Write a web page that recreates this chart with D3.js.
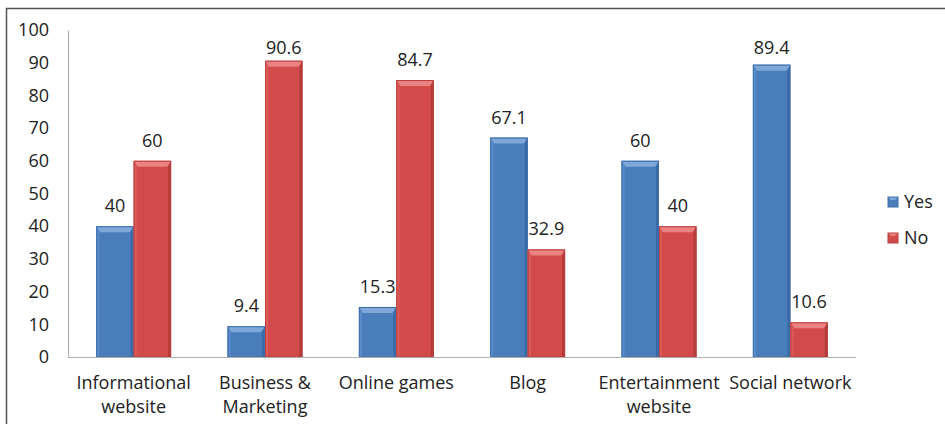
<!DOCTYPE html>
<html>
<head>
<meta charset="utf-8">
<script src="https://cdn.jsdelivr.net/npm/d3@7"></script>
<style>
  html, body { margin: 0; padding: 0; background: #fff; }
  svg { display: block; }
  text { font-family: "Open Sans", Lato, sans-serif; fill: #222; }
</style>
</head>
<body>
<svg id="chart" width="945" height="424"></svg>
<script>
// Website categories and the share of respondents answering Yes / No
const categories = [
  ["Informational", "website"],
  ["Business &", "Marketing"],
  ["Online games"],
  ["Blog"],
  ["Entertainment", "website"],
  ["Social network"]
];
const yesValues = [40, 9.4, 15.3, 67.1, 60, 89.4];
const noValues  = [60, 90.6, 84.7, 32.9, 40, 10.6];
const seriesNames = ["Yes", "No"];
const yTicks = [0, 10, 20, 30, 40, 50, 60, 70, 80, 90, 100];

const svg = d3.select("#chart");
const FS = "18px";

// outer frame
svg.append("rect")
  .attr("x", 6.5).attr("y", 8.5)
  .attr("width", 945).attr("height", 430)
  .attr("fill", "none").attr("stroke", "#555").attr("stroke-width", 1.5);

const plot = { left: 68, right: 856, top: 30, bottom: 357 };

const x = d3.scaleBand()
  .domain(d3.range(categories.length))
  .range([plot.left, plot.right])
  .padding(0);

const y = d3.scaleLinear().domain([0, 100]).range([plot.bottom, plot.top]);

const barW = x.bandwidth() * 0.285;

const palettes = {
  Yes: { base: "#4a7ebb", top: "#7fa8d8", left: "#5a8ccb", right: "#3a6aa5", edge: "#3d6ea8" },
  No:  { base: "#d24b4a", top: "#e98280", left: "#dc5c5a", right: "#b53b3a", edge: "#b84140" }
};

// y-axis labels
const yAxis = d3.axisLeft(y).tickValues(yTicks).tickSize(0).tickPadding(19);
const gy = svg.append("g").attr("transform", `translate(${plot.left},0)`).call(yAxis);
gy.select(".domain").attr("stroke", "#b0b0b0").attr("stroke-width", 1.2);
gy.selectAll("text").style("font-size", FS).style("font-family", "'Open Sans', sans-serif").attr("fill", "#222");

// bars with bevelled faces
function drawBar(g, x0, value, pal) {
  const y0 = y(value), y1 = y(0), w = barW, h = y1 - y0;
  const b = Math.min(6, h / 2);
  g.append("rect").attr("x", x0).attr("y", y0).attr("width", w).attr("height", h)
    .attr("fill", pal.base);
  // left side
  g.append("polygon")
    .attr("points", [[x0, y0], [x0 + 3, y0 + b], [x0 + 3, y1], [x0, y1]].join(" "))
    .attr("fill", pal.left);
  // right side
  g.append("polygon")
    .attr("points", [[x0 + w, y0], [x0 + w - 3, y0 + b], [x0 + w - 3, y1], [x0 + w, y1]].join(" "))
    .attr("fill", pal.right);
  // top bevel
  g.append("polygon")
    .attr("points", [[x0, y0], [x0 + w, y0], [x0 + w - 4, y0 + b], [x0 + 4, y0 + b]].join(" "))
    .attr("fill", pal.top);
  g.append("rect").attr("x", x0 + 0.5).attr("y", y0 + 0.5).attr("width", w - 1).attr("height", h - 0.5)
    .attr("fill", "none").attr("stroke", pal.edge).attr("stroke-width", 1);
}

const bars = svg.append("g");
const labels = svg.append("g");
categories.forEach((c, i) => {
  const cx = x(i) + x.bandwidth() / 2;
  const vals = [yesValues[i], noValues[i]];
  vals.forEach((v, k) => {
    const x0 = k === 0 ? cx - barW : cx;
    drawBar(bars, x0, v, palettes[seriesNames[k]]);
    // labels sit above the bar, kept inside the top of the plot area
    labels.append("text")
      .attr("x", x0 + barW / 2)
      .attr("y", Math.max(y(v) - 14, plot.top + 24))
      .attr("text-anchor", "middle")
      .style("font-size", FS)
      .text(d3.format("~g")(v));
  });
});

// x baseline
svg.append("line")
  .attr("x1", plot.left).attr("x2", plot.right)
  .attr("y1", plot.bottom + 0.5).attr("y2", plot.bottom + 0.5)
  .attr("stroke", "#b0b0b0").attr("stroke-width", 1.2);

// category labels
categories.forEach((c, i) => {
  const cx = x(i) + x.bandwidth() / 2;
  const t = svg.append("text")
    .attr("x", cx).attr("y", 389)
    .attr("text-anchor", "middle")
    .style("font-size", FS);
  c.forEach((line, j) => {
    t.append("tspan").attr("x", cx).attr("dy", j === 0 ? 0 : 24).text(line);
  });
});

// legend
const legend = svg.append("g");
seriesNames.forEach((name, k) => {
  const ly = 202 + k * 36;
  const pal = palettes[name];
  legend.append("rect").attr("x", 888).attr("y", ly - 5).attr("width", 10).attr("height", 10)
    .attr("fill", pal.base).attr("stroke", pal.edge);
  legend.append("polygon")
    .attr("points", [[888.5, ly - 4.5], [897.5, ly - 4.5], [895, ly - 2], [891, ly - 2]].join(" "))
    .attr("fill", pal.top);
  legend.append("text").attr("x", 904).attr("y", ly + 6)
    .style("font-size", FS).text(name);
});
</script>
</body>
</html>
